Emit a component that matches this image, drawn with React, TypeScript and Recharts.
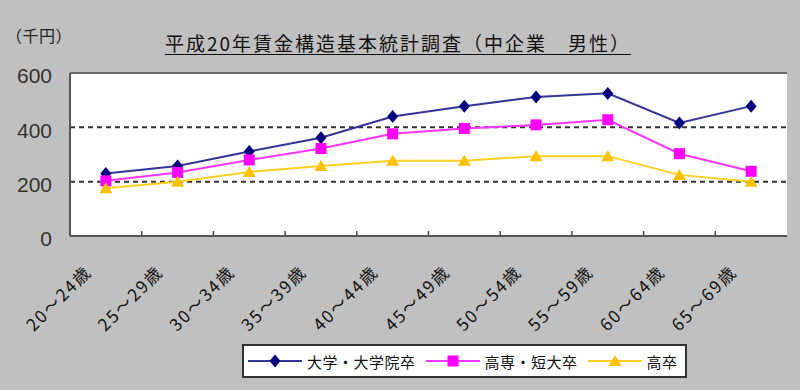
import React from 'react';
import { LineChart, Line, XAxis, YAxis, CartesianGrid, Legend, ReferenceArea } from 'recharts';

const categories = ['20～24歳', '25～29歳', '30～34歳', '35～39歳', '40～44歳', '45～49歳', '50～54歳', '55～59歳', '60～64歳', '65～69歳'];
const univ = [230, 258, 311, 362, 440, 478, 512, 525, 416, 478];
const college = [203, 234, 280, 322, 376, 396, 409, 428, 303, 238];
const highschool = [176, 200, 236, 258, 277, 277, 294, 294, 225, 200];
const yTicks = [0, 200, 400, 600];
const gridValues = [200, 400];
const yMax = 600;

const seriesNames = ['大学・大学院卒', '高専・短大卒', '高卒'];
const title = '平成20年賃金構造基本統計調査（中企業　男性）';
const unitLabel = '（千円）';

const data = categories.map((c, i) => ({ cat: c, univ: univ[i], college: college[i], high: highschool[i] }));

const JP = '"Noto Sans CJK JP", "Noto Sans", sans-serif';

type Shape = 'diamond' | 'square' | 'triangle';

const Marker = ({ cx, cy, shape, color }: { cx: number; cy: number; shape: Shape; color: string }) => {
  if (shape === 'diamond') {
    return <polygon points={`${cx},${cy - 6.5} ${cx + 5.5},${cy} ${cx},${cy + 6.5} ${cx - 5.5},${cy}`} fill={color} />;
  }
  if (shape === 'square') {
    return <rect x={cx - 5.5} y={cy - 5.5} width={11} height={11} fill={color} />;
  }
  return <polygon points={`${cx},${cy - 6} ${cx + 6.5},${cy + 5} ${cx - 6.5},${cy + 5}`} fill={color} />;
};

const series = [
  { key: 'univ', name: seriesNames[0], line: '#333399', marker: '#000080', shape: 'diamond' as Shape },
  { key: 'college', name: seriesNames[1], line: '#FF33FF', marker: '#FF00FF', shape: 'square' as Shape },
  { key: 'high', name: seriesNames[2], line: '#FFD020', marker: '#FFC000', shape: 'triangle' as Shape },
];

const makeDot = (shape: Shape, color: string) => (props: any) => {
  const { cx, cy, index } = props;
  if (cx == null || cy == null) return <g key={index} />;
  return <Marker key={index} cx={cx} cy={cy} shape={shape} color={color} />;
};

const XTick = (props: any) => {
  const { x, y, payload, index } = props;
  const half = payload && typeof payload.offset === 'number' ? payload.offset : 0;
  return (
    <g>
      {index > 0 && half > 0 ? (
        <line x1={x - half} y1={y - 1} x2={x - half} y2={y - 5} stroke="#444" strokeWidth={1.5} />
      ) : null}
      <g transform={`translate(${x - 13},${y + 37})`}>
        <text
          textAnchor="end"
          transform="rotate(-45)"
          fontSize={17}
          letterSpacing={2}
          fontFamily={JP}
          fill="#111"
        >
          {payload.value}
        </text>
      </g>
    </g>
  );
};

const LegendContent = () => (
  <div
    style={{
      boxSizing: 'border-box',
      width: 445,
      height: 34,
      background: '#fff',
      border: '2px solid #333',
      display: 'flex',
      alignItems: 'center',
      paddingLeft: 4,
      fontFamily: JP,
      fontSize: 15,
      color: '#111',
    }}
  >
    {series.map((s, i) => (
      <div key={s.key} style={{ display: 'flex', alignItems: 'center', marginRight: i < 2 ? 10 : 0 }}>
        <svg width={54} height={16} style={{ marginRight: 5 }}>
          <line x1={0} y1={8} x2={54} y2={8} stroke={s.line} strokeWidth={2} />
          <Marker cx={27} cy={8} shape={s.shape} color={s.marker} />
        </svg>
        <span style={{ letterSpacing: 0.5 }}>{s.name}</span>
      </div>
    ))}
  </div>
);

export default function App() {
  return (
    <div style={{ position: 'absolute', left: 0, top: 0, width: 800, height: 390, background: '#c0c0c0', overflow: 'hidden' }}>
      <div
        style={{
          position: 'absolute',
          left: 6,
          top: 23,
          fontFamily: JP,
          fontSize: 16,
          letterSpacing: 0.5,
          color: '#222',
        }}
      >
        {unitLabel}
      </div>
      <div
        style={{
          position: 'absolute',
          left: 0,
          top: 31,
          width: 796,
          textAlign: 'center',
          fontFamily: JP,
          fontSize: 19,
          letterSpacing: 2,
          color: '#111',
          textDecoration: 'underline',
          textUnderlineOffset: 3,
          lineHeight: '24px',
        }}
      >
        {title}
      </div>
      <LineChart width={800} height={390} data={data} margin={{ top: 73, right: 13, bottom: 0, left: 0 }}>
        <CartesianGrid
          horizontal
          vertical={false}
          horizontalValues={gridValues}
          fill="#ffffff"
          stroke="#333"
          strokeWidth={2}
          strokeDasharray="5 4"
        />
        <CartesianGrid horizontal vertical={false} horizontalValues={[yMax]} stroke="#6a6a6a" strokeWidth={2} />
        <ReferenceArea
          x1={categories[0]}
          x2={categories[categories.length - 1]}
          y1={0}
          y2={yMax}
          fill="none"
          stroke="#6a6a6a"
          strokeWidth={2}
        />
        <XAxis
          dataKey="cat"
          scale="band"
          height={154}
          interval={0}
          tickLine={false}
          tickSize={0}
          tickMargin={0}
          axisLine={{ stroke: '#555', strokeWidth: 2 }}
          tick={<XTick />}
        />
        <YAxis
          width={70}
          domain={[0, yMax]}
          ticks={yTicks}
          tickLine={false}
          tickSize={0}
          tickMargin={18}
          axisLine={{ stroke: '#555', strokeWidth: 2 }}
          tick={{ fontSize: 21, fill: '#333', fontFamily: '"Liberation Sans", Arial, sans-serif', dy: 3 }}
        />
        {series.map((s) => (
          <Line
            key={s.key}
            dataKey={s.key}
            name={s.name}
            stroke={s.line}
            strokeWidth={2}
            dot={makeDot(s.shape, s.marker)}
            activeDot={false}
            isAnimationActive={false}
          />
        ))}
        <Legend
          layout="horizontal"
          verticalAlign="middle"
          align="center"
          wrapperStyle={{ left: 242, top: 344, width: 445, height: 34 }}
          content={<LegendContent />}
        />
      </LineChart>
    </div>
  );
}
